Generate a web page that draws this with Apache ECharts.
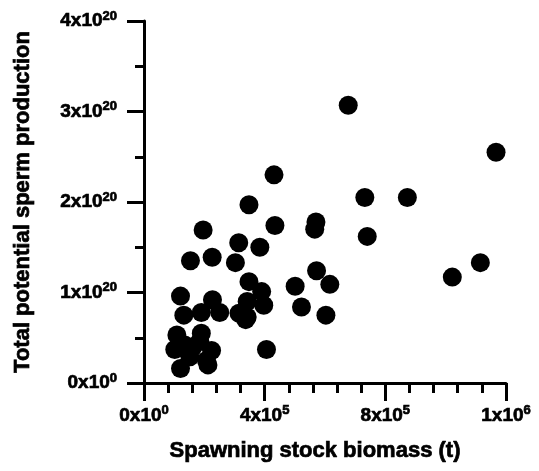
<!DOCTYPE html>
<html>
<head>
<meta charset="utf-8">
<script src="https://cdn.jsdelivr.net/npm/echarts@6/dist/echarts.min.js"></script>
<style>
  html, body { margin: 0; padding: 0; background: #fff; }
  #chart { width: 539px; height: 471px; }
</style>
</head>
<body>
<div id="chart"></div>
<script>
// spawning stock biomass (t)
const biomass = [
  677000, 1167000, 732000, 873000, 740000, 1115000, 1022000, 616000, 603000,
  431000, 348000, 196000, 434000, 570000, 566000, 314000, 384000, 154000,
  226000, 303000, 572000, 501000, 348000, 390000, 121000, 522000, 227000,
  342000, 397000, 132000, 190000, 251000, 315000, 342000, 337000, 109000,
  190000, 102000, 163000, 224000, 185000, 207000, 121000, 212000, 152000,
  406000, 135000
];
// total potential sperm production
const sperm = [
  3.07e20, 2.55e20, 2.05e20, 2.05e20, 1.62e20, 1.33e20, 1.17e20, 1.09e20, 0.75e20,
  2.30e20, 1.97e20, 1.69e20, 1.74e20, 1.78e20, 1.70e20, 1.55e20, 1.50e20, 1.35e20,
  1.39e20, 1.33e20, 1.24e20, 1.07e20, 1.12e20, 1.01e20, 0.96e20, 0.84e20, 0.92e20,
  0.90e20, 0.86e20, 0.75e20, 0.78e20, 0.78e20, 0.77e20, 0.73e20, 0.70e20, 0.53e20,
  0.55e20, 0.37e20, 0.40e20, 0.36e20, 0.46e20, 0.25e20, 0.16e20, 0.20e20, 0.29e20,
  0.37e20, 0.42e20
];

// tick labels: mantissa part and exponent (superscript)
const xTickBase = ['0x10', '4x10', '8x10', '1x10'];
const xTickExp = ['0', '5', '5', '6'];
const yTickBase = ['0x10', '1x10', '2x10', '3x10', '4x10'];
const yTickExp = ['0', '20', '20', '20', '20'];

const font = 'Arial, Liberation Sans, sans-serif';
// thin text border makes the bold glyphs as heavy as the scanned figure
const heavy = { textBorderColor: '#000', textBorderWidth: 0.7 };
const labelRich = {
  b: { fontSize: 19, fontWeight: 'bold', fontFamily: font, color: '#000', ...heavy },
  s: { fontSize: 13, fontWeight: 'bold', fontFamily: font, color: '#000', padding: [0, 0, 10, 0], ...heavy }
};

const chart = echarts.init(document.getElementById('chart'));

chart.setOption({
  animation: false,
  textStyle: { fontFamily: font, fontWeight: 'bold' },
  grid: {
    left: 144,
    right: 33,
    top: 21,
    bottom: 88
  },
  xAxis: {
    type: 'value',
    min: 0,
    max: 1200000,
    interval: 400000,
    name: 'Spawning stock biomass (t)',
    nameLocation: 'middle',
    nameGap: 57,
    nameTextStyle: {
      fontSize: 22, fontWeight: 'bold', fontFamily: font, color: '#000',
      padding: [0, 20, 0, 0], ...heavy
    },
    axisLine: { lineStyle: { color: '#000', width: 3 } },
    axisTick: { length: 18, lineStyle: { color: '#000', width: 3 } },
    minorTick: { show: true, splitNumber: 5, length: 10, lineStyle: { color: '#000', width: 3 } },
    splitLine: { show: false },
    axisLabel: {
      margin: 21,
      fontSize: 19,
      fontWeight: 'bold',
      fontFamily: font,
      color: '#000',
      formatter: (v) => {
        const i = Math.round(v / 400000);
        return `{b|${xTickBase[i]}}{s|${xTickExp[i]}}`;
      },
      rich: labelRich
    }
  },
  yAxis: {
    type: 'value',
    min: 0,
    max: 4e20,
    interval: 1e20,
    name: 'Total potential sperm production',
    nameLocation: 'middle',
    nameGap: 110,
    nameTextStyle: { fontSize: 22, fontWeight: 'bold', fontFamily: font, color: '#000', ...heavy },
    axisLine: { show: true, lineStyle: { color: '#000', width: 3 } },
    axisTick: { show: true, length: 17, lineStyle: { color: '#000', width: 3 } },
    minorTick: { show: true, splitNumber: 2, length: 9, lineStyle: { color: '#000', width: 3 } },
    splitLine: { show: false },
    axisLabel: {
      margin: 27,
      fontSize: 19,
      fontWeight: 'bold',
      fontFamily: font,
      color: '#000',
      formatter: (v) => {
        const i = Math.round(v / 1e20);
        return `{b|${yTickBase[i]}}{s|${yTickExp[i]}}`;
      },
      rich: labelRich
    }
  },
  series: [
    {
      type: 'scatter',
      symbol: 'circle',
      symbolSize: 19,
      itemStyle: { color: '#000', opacity: 1 },
      data: biomass.map((b, i) => [b, sperm[i]])
    }
  ]
});
</script>
</body>
</html>
